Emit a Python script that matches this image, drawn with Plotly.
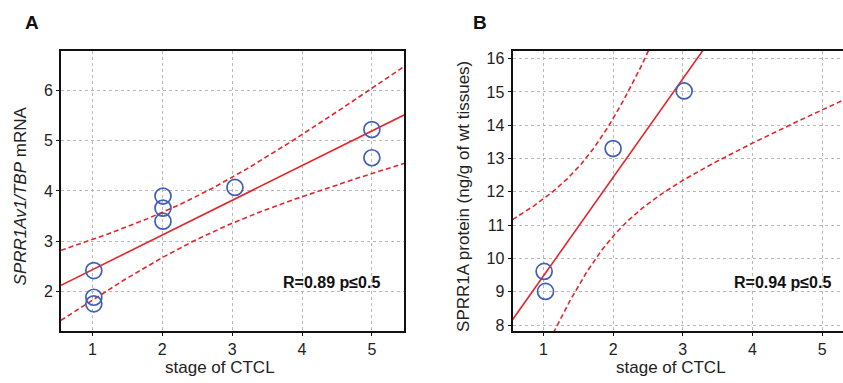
import numpy as np
import plotly.graph_objects as go

# ---- data ----
stage_a = [1.02, 1.02, 1.02, 2.01, 2.01, 2.01, 3.04, 5.0, 5.0]
mrna_a = [2.42, 1.89, 1.76, 3.90, 3.66, 3.40, 4.07, 5.22, 4.66]
stage_b = [1.01, 1.03, 2.0, 3.02]
protein_b = [9.61, 9.01, 13.30, 15.03]
x_ticks = [1, 2, 3, 4, 5]
y_ticks_a = [2, 3, 4, 5, 6]
y_ticks_b = [8, 9, 10, 11, 12, 13, 14, 15, 16]
label_a = "R=0.89 p≤0.5"
label_b = "R=0.94 p≤0.5"
# two-sided 95% Student t quantiles for df = n - 2
t975 = {2: 4.303, 7: 2.365}

XR_A = [0.55, 5.46]
YR_A = [1.22, 6.78]
XR_B = [0.556, 5.30]
YR_B = [7.82, 16.23]

BLUE = "#3f5fb8"
RED = "#e3262b"
FONT = "Liberation Sans, Arial, sans-serif"


def fit_band(xs, ys, xr):
    x = np.asarray(xs, float)
    y = np.asarray(ys, float)
    n = len(x)
    b, a = np.polyfit(x, y, 1)
    res = y - (a + b * x)
    s = np.sqrt(np.sum(res ** 2) / (n - 2))
    sxx = np.sum((x - x.mean()) ** 2)
    g = np.linspace(xr[0], xr[1], 300)
    fit = a + b * g
    hw = t975[n - 2] * s * np.sqrt(1.0 / n + (g - x.mean()) ** 2 / sxx)
    return g, fit, fit - hw, fit + hw


fig = go.Figure()

for xs, ys, xr, xa, ya in [
    (stage_a, mrna_a, XR_A, "x", "y"),
    (stage_b, protein_b, XR_B, "x2", "y2"),
]:
    g, fit, lo, hi = fit_band(xs, ys, xr)
    fig.add_trace(go.Scatter(x=g, y=fit, mode="lines", xaxis=xa, yaxis=ya,
                             line=dict(color=RED, width=1.6), showlegend=False))
    for band in (lo, hi):
        fig.add_trace(go.Scatter(x=g, y=band, mode="lines", xaxis=xa, yaxis=ya,
                                 line=dict(color=RED, width=1.6, dash="5px,3px"),
                                 showlegend=False))
    fig.add_trace(go.Scatter(x=xs, y=ys, mode="markers", xaxis=xa, yaxis=ya,
                             marker=dict(symbol="circle-open", size=16, color=BLUE,
                                         line=dict(width=1.7, color=BLUE)),
                             showlegend=False, cliponaxis=False))

W, H = 843, 383
top_px, bot_px = 50.5, 333.5
ydom = [1 - bot_px / H, 1 - top_px / H]

axis_common = dict(
    showgrid=True, gridcolor="#b8b8b8", gridwidth=1, griddash="dot",
    showline=True, linecolor="#111", linewidth=2,
    ticks="outside", ticklen=3, tickwidth=1, tickcolor="#111",
    tickfont=dict(family=FONT, size=16, color="#222"),
    zeroline=False, fixedrange=True,
)

fig.update_layout(
    width=W, height=H,
    margin=dict(l=0, r=0, t=0, b=0),
    paper_bgcolor="white", plot_bgcolor="white",
    font=dict(family=FONT, color="#222"),
    xaxis=dict(axis_common, domain=[61 / W, 404 / W], range=XR_A, tickvals=x_ticks,
               mirror=True, anchor="y"),
    yaxis=dict(axis_common, domain=ydom, range=YR_A, tickvals=y_ticks_a,
               mirror=True, anchor="x"),
    xaxis2=dict(axis_common, domain=[512.5 / W, 1.0], range=XR_B, tickvals=x_ticks,
                mirror=True, anchor="y2"),
    yaxis2=dict(axis_common, domain=ydom, range=YR_B, tickvals=y_ticks_b,
                mirror=False, anchor="x2"),
)

ann = [
    dict(text="<b>A</b>", x=32 / W, y=1 - 22 / H, font=dict(size=19, color="#111")),
    dict(text="<b>B</b>", x=480 / W, y=1 - 21.5 / H, font=dict(size=19, color="#111")),
    dict(text="stage of CTCL", x=220 / W, y=1 - 370 / H, font=dict(size=17)),
    dict(text="stage of CTCL", x=671 / W, y=1 - 370 / H, font=dict(size=17)),
    dict(text="<i>SPRR1Av1/TBP</i> mRNA", x=20.5 / W, y=1 - 197 / H, textangle=-90,
         font=dict(size=17)),
    dict(text="SPRR1A protein (ng/g of wt tissues)", x=463.5 / W, y=1 - 197.5 / H,
         textangle=-90, font=dict(size=17)),
    dict(text="<b>%s</b>" % label_a, x=382 / W, y=1 - 284 / H, xanchor="right",
         font=dict(size=16, color="#111")),
    dict(text="<b>%s</b>" % label_b, x=833 / W, y=1 - 284 / H, xanchor="right",
         font=dict(size=16, color="#111")),
]
for a in ann:
    a.setdefault("xanchor", "center")
    a.update(xref="paper", yref="paper", yanchor="middle", showarrow=False)
    a["font"] = dict(dict(family=FONT, color="#222"), **a["font"])
fig.update_layout(annotations=ann)

fig.write_html(
    "out.html",
    config={"displayModeBar": False, "staticPlot": True},
    post_script="document.body.style.margin='0';document.body.style.padding='0';"
                "document.body.style.overflow='hidden';",
)
